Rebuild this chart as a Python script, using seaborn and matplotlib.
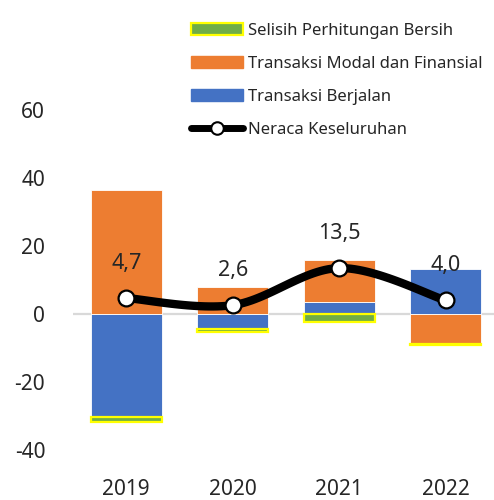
import matplotlib
matplotlib.use("Agg")
import matplotlib.pyplot as plt
import seaborn as sns
import numpy as np
import pandas as pd
from matplotlib.patches import Patch
from matplotlib.lines import Line2D

sns.set_theme(style="white")
plt.rcParams["font.family"] = ["Noto Sans", "DejaVu Sans"]
plt.rcParams["axes.unicode_minus"] = False

# data (miliar USD)
years = ["2019", "2020", "2021", "2022"]
transaksi_berjalan = [-30.3, -4.4, 3.5, 13.2]
transaksi_modal = [36.6, 7.9, 12.4, -8.9]
selisih = [-1.6, -0.9, -2.4, -0.3]
neraca = [4.7, 2.6, 13.5, 4.0]

BLUE = "#4472C4"
ORANGE = "#ED7D31"
GREEN = "#70AD47"
YELLOW = "#FFFF00"

df = pd.DataFrame({
    "Tahun": years,
    "Berjalan": transaksi_berjalan,
    "Modal": transaksi_modal,
    "Selisih": selisih,
    "Neraca": neraca,
})

fig = plt.figure(figsize=(4.94, 5.0), dpi=100)
ax = fig.add_axes([73 / 494, 50 / 500, (499 - 73) / 494, 340 / 500])

x = np.arange(len(years))
width = 0.667

# diverging stacks: positives up from zero, negatives down from zero
pos = np.zeros(len(years))
neg = np.zeros(len(years))
layers = [
    ("Berjalan", BLUE, "white", 0.6),
    ("Modal", ORANGE, "white", 0.6),
    ("Selisih", GREEN, YELLOW, 1.6),
]
for col, color, edge, lw in layers:
    vals = df[col].to_numpy()
    bottom = np.where(vals >= 0, pos, neg)
    ax.bar(x, vals, width=width, bottom=bottom, color=color,
           edgecolor=edge, linewidth=lw, zorder=2)
    pos = np.where(vals >= 0, pos + vals, pos)
    neg = np.where(vals < 0, neg + vals, neg)

ax.axhline(0, color="#d9d9d9", lw=1.6, zorder=1)


# smoothed line like the spreadsheet curve (bezier through the points)
def smooth(xs, ys, n=30):
    px, py = [], []
    m = len(xs)
    for i in range(m - 1):
        x0, y0 = xs[max(i - 1, 0)], ys[max(i - 1, 0)]
        x1, y1 = xs[i], ys[i]
        x2, y2 = xs[i + 1], ys[i + 1]
        x3, y3 = xs[min(i + 2, m - 1)], ys[min(i + 2, m - 1)]
        c1x, c1y = x1 + (x2 - x0) / 6, y1 + (y2 - y0) / 6
        c2x, c2y = x2 - (x3 - x1) / 6, y2 - (y3 - y1) / 6
        t = np.linspace(0, 1, n)
        bx = (1 - t) ** 3 * x1 + 3 * (1 - t) ** 2 * t * c1x + 3 * (1 - t) * t ** 2 * c2x + t ** 3 * x2
        by = (1 - t) ** 3 * y1 + 3 * (1 - t) ** 2 * t * c1y + 3 * (1 - t) * t ** 2 * c2y + t ** 3 * y2
        px.extend(bx)
        py.extend(by)
    return np.array(px), np.array(py)


sx, sy = smooth(x.astype(float), df["Neraca"].to_numpy())
ax.plot(sx, sy, color="black", lw=6, solid_capstyle="round", zorder=3)
sns.scatterplot(x=x, y=df["Neraca"], ax=ax, s=130, color="white",
                edgecolor="black", linewidth=1.6, zorder=4)

for xi, v in zip(x, df["Neraca"]):
    ax.annotate(f"{v:.1f}".replace(".", ","), (xi, v), xytext=(0, 25),
                textcoords="offset points", ha="center", va="center",
                fontsize=15.5, color="#262626", zorder=5)

ax.set_xlim(-0.5, 3.5)
ax.set_ylim(-40, 60)
ax.set_yticks([-40, -20, 0, 20, 40, 60])
ax.set_xticks(x)
ax.set_xticklabels(years)
ax.set_xlabel("")
ax.set_ylabel("")
ax.tick_params(axis="y", length=0, pad=20, labelsize=15, labelcolor="#262626")
ax.tick_params(axis="x", length=0, pad=21, labelsize=15, labelcolor="#262626")
sns.despine(ax=ax, left=True, bottom=True)
ax.patch.set_alpha(0)

handles = [
    Patch(facecolor=GREEN, edgecolor=YELLOW, linewidth=1.6),
    Patch(facecolor=ORANGE, edgecolor=ORANGE),
    Patch(facecolor=BLUE, edgecolor=BLUE),
    Line2D([0], [0], color="black", lw=5, marker="o", markersize=9,
           markerfacecolor="white", markeredgecolor="black", markeredgewidth=1.5),
]
labels = ["Selisih Perhitungan Bersih", "Transaksi Modal dan Finansial",
          "Transaksi Berjalan", "Neraca Keseluruhan"]
fig.legend(handles, labels, loc="upper left", bbox_to_anchor=(191 / 494, 1 - 23 / 500),
           frameon=False, fontsize=12, handlelength=3.1, handleheight=0.75,
           handletextpad=0.3, labelspacing=1.02, borderpad=0, borderaxespad=0,
           labelcolor="#262626")

fig.savefig("out.png", dpi=100)
